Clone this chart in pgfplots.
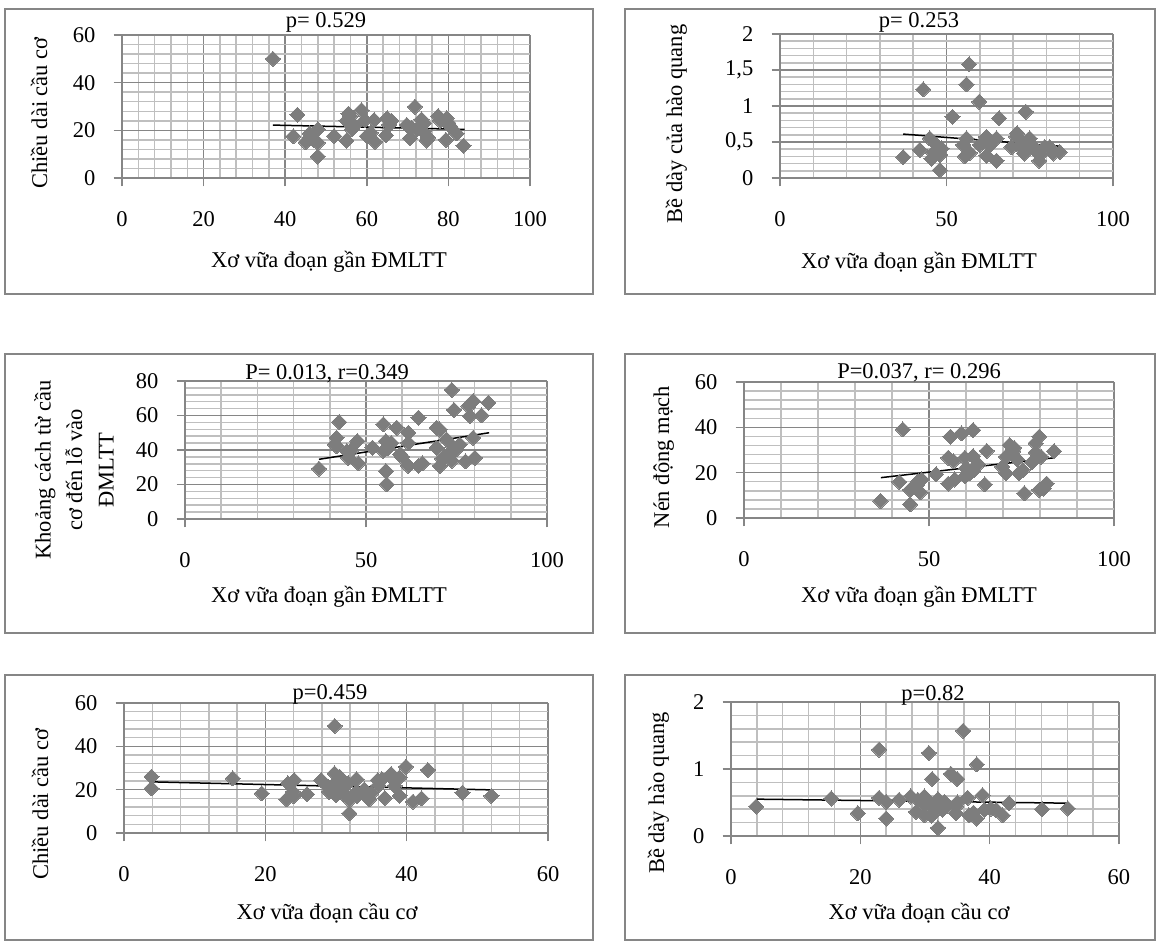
\documentclass[border=0pt]{standalone}
\usepackage{fontspec}
\setmainfont{Liberation Serif}
\usepackage{pgfplots}
\pgfplotsset{compat=1.18}

\definecolor{majgray}{RGB}{134,134,134}
\definecolor{mingray}{RGB}{191,191,191}
\definecolor{dotgray}{RGB}{125,125,125}
\definecolor{boxgray}{RGB}{134,134,134}

\newcommand{\lbl}{\fontsize{13.5}{18.9}\selectfont}

\pgfplotsset{
  excel/.style={
    scale only axis,
    anchor=south west,
    axis lines*=left,
    axis line style={majgray, line width=0.9pt},
    grid=both,
    major grid style={majgray, line width=0.9pt},
    minor grid style={mingray, line width=0.9pt},
    minor tick num=4,
    tick align=outside,
    major tick length=5pt,
    minor tick length=0pt,
    tick style={majgray, line width=0.9pt},
    tick label style={font=\lbl},
    /pgf/number format/assume math mode=true,
    /pgf/number format/use comma,
    xticklabel style={anchor=base, yshift=-24pt},
    yticklabel style={anchor=east, xshift=-7.5pt},
    clip=false,
  },
  dots/.style={only marks, color=dotgray, mark=square*, mark size=3.2pt,
    mark options={rotate=45, fill=dotgray, draw=dotgray, line width=0pt}},
  trend/.style={black, line width=0.9pt, no marks},
}

\begin{document}
\begin{tikzpicture}

% ---------- row 1, left
\begin{axis}[excel, at={(73.2pt,-106.8pt)}, width=244.8pt, height=85.8pt,
  xmin=0, xmax=100, ymin=0, ymax=60, xtick={0,20,...,100}, ytick={0,20,40,60}]
\addplot[dots] coordinates {
(37,50) (43,26.5) (42,17.5) (45,15) (46,18.7) (48,20.4) (48,14.8) (48,9)
(52,17.6) (55,15.7) (55.5,27) (55,24) (56.3,20.4) (58.7,28.5) (59.5,24.3)
(60,17.6) (61.8,24.3) (62,15.2) (65,25.1) (65.5,22.3) (64.7,17.9) (69.8,22.3)
(70.6,16.7) (71.8,29.9) (72.2,20.4) (73.4,24.6) (74.7,15.7) (73.9,19.4)
(77.5,26) (79.6,25.1) (79.4,16) (80.4,21.7) (82,18.7) (83.7,13.6)
(46,17) (56,26) (57,22) (61,19) (66,24) (71,21) (74,23) (75,17) (78,24) (80,23) (47,16)
};
\addplot[trend] coordinates {(37,22.2) (84,20.4)};
\end{axis}

% ---------- row 1, right
\begin{axis}[excel, at={(468pt,-106.8pt)}, width=199.8pt, height=86.4pt,
  xmin=0, xmax=100, ymin=0, ymax=2, xtick={0,50,100}, ytick={0,0.5,1,1.5,2}]
\addplot[dots] coordinates {
(37,0.29) (42,0.39) (43,1.23) (45,0.55) (45.5,0.27) (47,0.46) (48,0.32) (48,0.11)
(48.5,0.41) (51.8,0.85) (55.5,0.30) (56,0.55) (56,1.30) (56.8,1.58) (55,0.46)
(59.8,1.06) (60,0.46) (62,0.57) (62,0.31) (65,0.55) (65,0.24) (65.8,0.83)
(71,0.57) (72,0.44) (73.8,0.92) (77.8,0.24) (79.5,0.43) (84,0.36) (74.5,0.53)
(73.4,0.34) (76.2,0.43) (71.2,0.62) (81,0.43) (82,0.34) (69.5,0.43) (72.8,0.48)
(61,0.50) (57,0.35) (46,0.35) (63,0.45) (75,0.55) (78,0.32)
};
\addplot[trend] coordinates {(37,0.61) (84.5,0.44)};
\end{axis}

% ---------- row 2, left
\begin{axis}[excel, at={(111pt,-311.4pt)}, width=217.2pt, height=82.8pt,
  xmin=0, xmax=100, ymin=0, ymax=80, xtick={0,50,100}, ytick={0,20,...,80}]
\addplot[dots] coordinates {
(37,29.2) (41.9,47.1) (41.4,43.2) (42.6,56.2) (41.9,42.2) (44.7,39.4) (45.1,35.5)
(47.6,45.2) (47.9,32.3) (51.8,41.3) (54.8,54.9) (55.5,45.2) (55.5,27.8) (55.7,20.1)
(54.8,39.4) (58.5,52.9) (59.4,37.5) (61.7,50) (61.7,44.1) (61.7,30.8) (64.5,58.7)
(65.6,32.3) (64.5,30.8) (69.5,52.9) (70.4,51.9) (69.5,41.3) (70.4,30.8) (71.7,36.5)
(73.7,74.8) (74.3,63.2) (75,40.4) (75.9,43.2) (77.5,33.4) (79.6,68.4) (78.3,65.5)
(78.7,59.7) (79.6,47.1) (80.1,35.5) (81.9,60.1) (83.8,67.4) (72.2,46.2) (73.7,33.8)
(46,40) (57,44) (60,36) (71,35) (73,38) (74,42) (56,41)
};
\addplot[trend] coordinates {(37,34.6) (84,50)};
\end{axis}

% ---------- row 2, right
\begin{axis}[excel, at={(446.4pt,-310.8pt)}, width=222pt, height=81.6pt,
  xmin=0, xmax=100, ymin=0, ymax=60, xtick={0,50,100}, ytick={0,20,40,60}]
\addplot[dots] coordinates {
(36.9,7.5) (42.9,39.1) (42,15.9) (44.9,6) (44.9,12.4) (47.1,16.3) (47.6,11.3)
(46.7,14.3) (51.9,19.3) (55.2,15.2) (55.8,35.9) (55.2,26.6) (56.6,25.1) (58.8,37.3)
(59.7,18.4) (61.9,38.8) (59.7,26.6) (61.9,27.3) (61.1,19.9) (65.6,29.6) (65.1,14.8)
(63.3,23.7) (71.8,32.2) (70.8,27) (69.8,22.6) (70.8,19.7) (72.8,29.5) (73.8,25.9)
(74.3,19.7) (75.8,10.9) (77.8,24.6) (78.8,28.9) (79.8,35.9) (78.8,33) (80.3,27)
(79.8,12.4) (81.8,15.2) (83.8,29.5) (75.3,21.2)
(48,17) (57,17) (60,22) (62,21) (73,31) (81,13)
};
\addplot[trend] coordinates {(37,17.8) (84,26.6)};
\end{axis}

% ---------- row 3, left
\begin{axis}[excel, at={(74.4pt,-499.8pt)}, width=254.4pt, height=78pt,
  xmin=0, xmax=60, ymin=0, ymax=60, xtick={0,20,40,60}, ytick={0,20,40,60}]
\addplot[dots] coordinates {
(3.9,26) (3.9,20.6) (15.4,25.2) (19.5,18.3) (23.2,22.9) (23,15.5) (24.1,24.4)
(23.9,19) (25.9,17.9) (27.9,24.4) (28.9,21.4) (29.8,49.4) (29.8,27.5) (30,17.5)
(30.3,24.4) (30.7,20.6) (31.7,22.9) (31.9,15.2) (31.9,9.1) (32.9,24.8) (32.9,19)
(34,20.1) (34.7,15.5) (35,18.3) (35.9,24.4) (36.9,16.1) (36.5,24.8) (37.8,27.2)
(38.3,21.7) (39,25.7) (39,17.2) (39.9,30.6) (40.9,14.5) (42.1,16) (43,29.1)
(47.9,18.6) (52,17.1)
(30.5,26) (33,17) (38,25) (29,19) (31,18) (36,22) (24,17)
};
\addplot[trend] coordinates {(4,23.6) (52,19.9)};
\end{axis}

% ---------- row 3, right
\begin{axis}[excel, at={(438.6pt,-501.6pt)}, width=232.8pt, height=80.4pt,
  xmin=0, xmax=60, ymin=0, ymax=2, xtick={0,20,40,60}, ytick={0,1,2}]
\addplot[dots] coordinates {
(3.9,0.44) (15.5,0.56) (19.6,0.34) (22.9,1.29) (22.9,0.57) (24,0.26) (24,0.51)
(26,0.54) (27.8,0.59) (28.9,0.54) (28.6,0.36) (29.9,0.59) (29.9,0.31) (30.6,1.24)
(31.1,0.85) (30.9,0.49) (32,0.55) (32,0.12) (31.7,0.39) (32.7,0.39) (33,0.51)
(34,0.93) (35,0.85) (34.8,0.44) (34.8,0.34) (35.9,1.57) (36.6,0.57) (36.8,0.31)
(38,1.07) (38,0.26) (38.9,0.61) (39.2,0.39) (40.2,0.41) (41,0.39) (42,0.31)
(43,0.49) (48.1,0.40) (52.1,0.41)
(30,0.45) (31,0.3) (33.5,0.45) (37.5,0.35) (35,0.5)
};
\addplot[trend] coordinates {(4,0.55) (52,0.49)};
\end{axis}

% ---------- frames and texts, in pixel units of the reference
\begin{scope}[x=0.6pt, y=-0.6pt]
\path (0,0) rectangle (1161,948);
\draw[boxgray, line width=0.75pt] (5,9) rectangle (593,294);
\draw[boxgray, line width=0.75pt] (625,9) rectangle (1155,294);
\draw[boxgray, line width=0.75pt] (5,354) rectangle (593,633);
\draw[boxgray, line width=0.75pt] (625,354) rectangle (1155,633);
\draw[boxgray, line width=0.75pt] (5,675) rectangle (593,940);
\draw[boxgray, line width=0.75pt] (625,675) rectangle (1155,940);

\begin{scope}[every node/.style={font=\lbl, inner sep=0pt}]
% titles
\node[anchor=base] at (326,28) {p= 0.529};
\node[anchor=base] at (919,28) {p= 0.253};
\node[anchor=base] at (327,379) {P= 0.013, r=0.349};
\node[anchor=base] at (919,378) {P=0.037, r= 0.296};
\node[anchor=base] at (330,699) {p=0.459};
\node[anchor=base] at (933,700) {p=0.82};
% x labels
\node[anchor=base] at (329,267) {Xơ vữa đoạn gần ĐMLTT};
\node[anchor=base] at (919,268) {Xơ vữa đoạn gần ĐMLTT};
\node[anchor=base] at (329,602) {Xơ vữa đoạn gần ĐMLTT};
\node[anchor=base] at (919,602) {Xơ vữa đoạn gần ĐMLTT};
\node[anchor=base] at (327,919) {Xơ vữa đoạn cầu cơ};
\node[anchor=base] at (919,919) {Xơ vữa đoạn cầu cơ};
% y labels
\node[anchor=base, rotate=90] at (47,113) {Chiều dài cầu cơ};
\node[anchor=base, rotate=90] at (682,124) {Bề dày của hào quang};
\node[anchor=center, rotate=90, align=center] at (74,470)
  {Khoảng cách từ cầu\\cơ đến lỗ vào\\ĐMLTT};
\node[anchor=base, rotate=90] at (669,457) {Nén động mạch};
\node[anchor=base, rotate=90] at (48,804) {Chiều dài cầu cơ};
\node[anchor=base, rotate=90] at (664,793) {Bề dày hào quang};
\end{scope}
\end{scope}

\end{tikzpicture}
\end{document}
